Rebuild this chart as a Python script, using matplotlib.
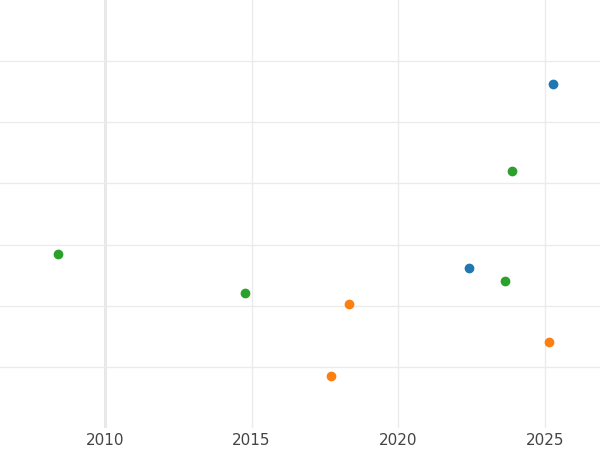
import matplotlib
matplotlib.use("Agg")
import matplotlib.pyplot as plt

# points
blue_x = [2025.27, 2022.41]
blue_y = [5.62, 2.62]
green_x = [2008.40, 2014.77, 2023.88, 2023.64]
green_y = [2.84, 2.20, 4.21, 2.41]
orange_x = [2018.32, 2017.71, 2025.14]
orange_y = [2.02, 0.85, 1.41]

fig = plt.figure(figsize=(6, 4.5), dpi=100)
ax = fig.add_axes([0, 0.049, 1, 0.951])

ax.scatter(blue_x, blue_y, color="#1f77b4", s=36, zorder=3)
ax.scatter(orange_x, orange_y, color="#ff7f0e", s=36, zorder=3)
ax.scatter(green_x, green_y, color="#2ca02c", s=36, zorder=3)

ax.set_xlim(2006.42, 2026.88)
ax.set_ylim(0, 7)
ax.set_xticks([2010, 2015, 2020, 2025])
ax.set_yticks([1, 2, 3, 4, 5, 6])
ax.set_yticklabels([])
ax.grid(True, color="#ebebeb", linewidth=1)
ax.axvline(2010, color="#e0e0e0", linewidth=1.8, zorder=1)
ax.tick_params(axis="both", length=0, labelsize=11, labelcolor="#444444")
for s in ax.spines.values():
    s.set_visible(False)

fig.savefig("out.png", dpi=100)
